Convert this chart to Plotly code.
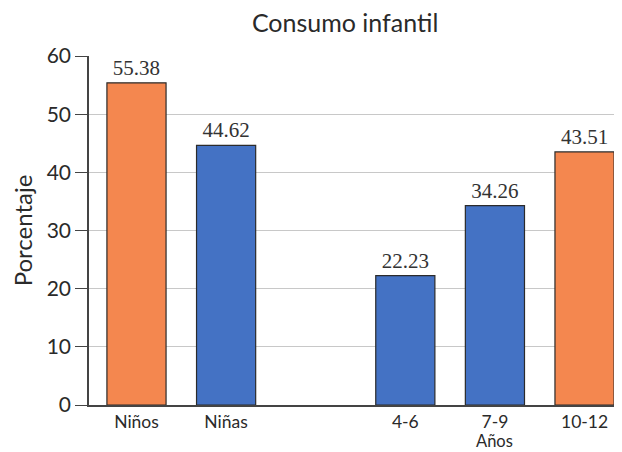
import plotly.graph_objects as go

categories = ["Niños", "Niñas", " ", "4-6", "7-9", "10-12"]
bar_categories = ["Niños", "Niñas", "4-6", "7-9", "10-12"]
values = [55.38, 44.62, 22.23, 34.26, 43.51]
value_labels = ["55.38", "44.62", "22.23", "34.26", "43.51"]
tick_labels = ["Niños", "Niñas", "", "4-6", "7-9", "10-12"]
group_label = "Años"
group_label_category = "7-9"
orange = "#F4874F"
blue = "#4472C4"
colors = [orange, blue, blue, blue, orange]

fig = go.Figure()
fig.add_trace(go.Bar(
    x=bar_categories, y=values,
    marker=dict(color=colors, line=dict(color="#2b2b2b", width=1.2)),
    width=0.66,
    text=value_labels, textposition="outside", cliponaxis=False,
    textfont=dict(family="Liberation Serif", size=21, color="#333333"),
))

# page body has an 8px default margin, so the figure is 8px smaller
fig.update_layout(
    width=614, height=444,
    margin=dict(l=81, r=7, t=48, b=47),
    paper_bgcolor="white", plot_bgcolor="white",
    showlegend=False,
    title=dict(text="Consumo infantil", x=0.549, xanchor="center", y=0.966, yanchor="middle",
               font=dict(family="Lato", size=25, color="#2a2a2a")),
    font=dict(family="Lato", color="#2a2a2a"),
)
fig.add_annotation(
    x=group_label_category, xref="x", y=-0.104, yref="paper",
    text=group_label, showarrow=False, xanchor="center", yanchor="middle",
    borderpad=0,
    font=dict(family="Lato", size=16.5, color="#2a2a2a"),
)
fig.update_xaxes(
    type="category", categoryorder="array", categoryarray=categories,
    tickmode="array", tickvals=categories, ticktext=tick_labels,
    range=[-0.53, 5.34], automargin=False,
    showline=True, linecolor="#444444", linewidth=1.5,
    ticks="", tickfont=dict(family="Lato", size=17.5, color="#2a2a2a"),
    showgrid=False,
)
fig.update_yaxes(
    range=[0, 60], dtick=10, tick0=0, automargin=False,
    showline=True, linecolor="#444444", linewidth=1.5,
    ticks="outside", ticklen=12, tickcolor="#444444", tickwidth=1.2,
    tickfont=dict(family="Lato", size=21, color="#2a2a2a"),
    showgrid=True, gridcolor="#c8c8c8", gridwidth=1,
    zeroline=False,
    title=dict(text="Porcentaje", font=dict(family="Lato", size=24, color="#2a2a2a"), standoff=9),
)

fig.write_html("out.html")
